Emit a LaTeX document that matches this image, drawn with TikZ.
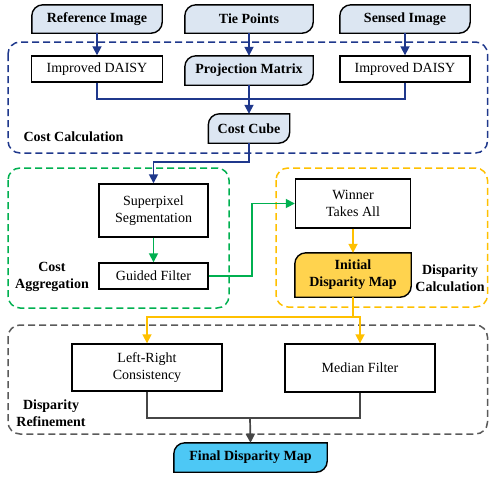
\documentclass[tikz,border=0pt]{standalone}
\usepackage{fontspec}
\setmainfont{Liberation Serif}
\usetikzlibrary{arrows.meta,backgrounds}
\definecolor{navy}{RGB}{31,56,140}
\definecolor{lblue}{RGB}{220,230,242}
\definecolor{ggreen}{RGB}{0,176,80}
\definecolor{yyellow}{RGB}{255,192,0}
\definecolor{idmfill}{RGB}{255,211,78}
\definecolor{cyanfill}{RGB}{77,200,245}
\definecolor{dgray}{RGB}{70,70,70}
\definecolor{mgray}{RGB}{90,90,90}
\newcommand\databox[2]{%
  \draw[boxline, fill=#2] (#1.south west) -- ([yshift=-11pt]#1.north west)
    arc[start angle=180, end angle=90, radius=11pt] -- (#1.north east)
    -- ([yshift=11pt]#1.south east)
    arc[start angle=0, end angle=-90, radius=11pt] -- cycle;}
\tikzset{
  x=1pt, y=1pt,
  txt/.style={font=\fontsize{14}{17}\selectfont, align=center},
  boxline/.style={draw=black, line width=1.4pt},
  procbox/.style={txt, boxline, fill=white, inner sep=0pt},
  databoxnode/.style={txt, font=\fontsize{14}{17}\selectfont\bfseries, inner sep=0pt},
  grp/.style={dashed, dash pattern=on 7pt off 4pt, line width=1.5pt, rounded corners=12pt},
  lbl/.style={txt, font=\fontsize{14}{17}\selectfont\bfseries},
  arr/.style={-{Triangle[length=9pt,width=9pt]}},
  con/.style={line width=1.7pt},
}
\begin{document}
\begin{tikzpicture}
\useasboundingbox (0,0) rectangle (489,-477);
% groups
\draw[grp, draw=navy] (8,-42) rectangle (487.5,-153);
\draw[grp, draw=ggreen] (8,-168) rectangle (229,-308);
\draw[grp, draw=yyellow] (276,-168) rectangle (487.5,-307);
\draw[grp, draw=mgray] (8,-325) rectangle (487.5,-434);
% nodes
\node[databoxnode, minimum width=130pt, minimum height=28pt] (ref) at (97,-19) {Reference Image};
\node[databoxnode, minimum width=128pt, minimum height=28pt] (tie) at (249,-19) {Tie Points};
\node[databoxnode, minimum width=130pt, minimum height=28pt] (sen) at (405,-19) {Sensed Image};
\node[procbox, minimum width=131pt, minimum height=26pt] (daisyL) at (97,-69) {Improved DAISY};
\node[databoxnode, minimum width=128pt, minimum height=29pt] (proj) at (249,-70.5) {Projection Matrix};
\node[procbox, minimum width=130pt, minimum height=26pt] (daisyR) at (405,-69) {Improved DAISY};
\node[databoxnode, minimum width=81pt, minimum height=29pt] (cube) at (249,-128.5) {Cost Cube};
\node[procbox, minimum width=109pt, minimum height=53pt] (sp) at (153.5,-210.5) {Superpixel\\Segmentation};
\node[procbox, minimum width=109pt, minimum height=26pt] (gf) at (153.5,-276) {Guided Filter};
\node[procbox, minimum width=115pt, minimum height=49pt] (wta) at (353,-203.5) {Winner\\Takes All};
\node[databoxnode, minimum width=116pt, minimum height=44pt] (idm) at (353,-275) {Initial\\Disparity Map};
\node[procbox, minimum width=150pt, minimum height=47pt] (lr) at (147,-367.5) {Left-Right\\Consistency};
\node[procbox, minimum width=150pt, minimum height=48pt] (mf) at (360,-368) {Median Filter};
\node[databoxnode, minimum width=153pt, minimum height=29pt] (fdm) at (250.5,-457.5) {Final Disparity Map};
% labels
\node[lbl, anchor=west] (lcc) at (20,-137) {Cost Calculation};
\node[lbl] (lca) at (52,-277) {Cost\\Aggregation};
\node[lbl] (ldc) at (450,-278) {Disparity\\Calculation};
\node[lbl] (ldr) at (51,-413) {Disparity\\Refinement};
% data shapes on background
\begin{scope}[on background layer]
\databox{ref}{lblue}
\databox{tie}{lblue}
\databox{sen}{lblue}
\databox{proj}{lblue}
\databox{cube}{lblue}
\databox{idm}{idmfill}
\databox{fdm}{cyanfill}
\end{scope}
% coordinates
\coordinate (j1) at (249,-99);
\coordinate (c1) at (249,-162);
\coordinate (g1) at (252,-276);
\coordinate (y1) at (353,-317);
\coordinate (k1) at (250,-418);
% connectors
\begin{scope}[con, draw=navy, color=navy]
\draw[arr] (ref.south) -- (daisyL.north);
\draw[arr] (tie.south) -- (proj.north);
\draw[arr] (sen.south) -- (daisyR.north);
\draw (daisyL.south) |- (j1);
\draw (daisyR.south) |- (j1);
\draw[arr] (proj.south) -- (cube.north);
\draw[arr] (cube.south) -- (c1) -| (sp.north);
\end{scope}
\begin{scope}[con, draw=ggreen, color=ggreen]
\draw[arr] (sp.south) -- (gf.north);
\draw[arr] (gf.east) -- (g1) |- (wta.west);
\end{scope}
\begin{scope}[con, draw=yyellow, color=yyellow]
\draw[arr] (wta.south) -- (idm.north);
\draw (idm.south) -- (y1);
\draw[arr] (y1) -| (lr.north);
\draw[arr] (y1) -| (mf.north);
\end{scope}
\begin{scope}[con, draw=dgray, color=dgray]
\draw (lr.south) |- (k1);
\draw (mf.south) |- (k1);
\draw[arr] (k1) -- (fdm.north);
\end{scope}
\end{tikzpicture}
\end{document}
